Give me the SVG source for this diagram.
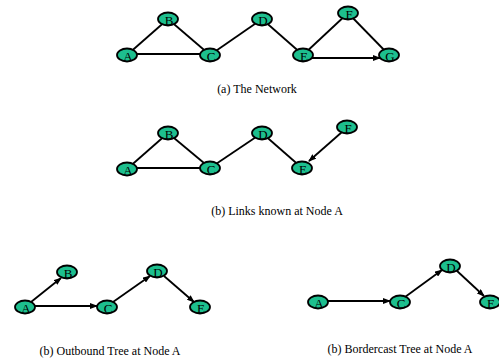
<svg xmlns="http://www.w3.org/2000/svg" width="499" height="360" viewBox="0 0 499 360">
<defs>
<marker id="ah" markerUnits="userSpaceOnUse" markerWidth="8" markerHeight="6" refX="7" refY="3" orient="auto">
<path d="M0,0 L8,3 L0,6 z" fill="#000"/>
</marker>
<style>
.n ellipse{fill:#1dbf8e;stroke:#000;stroke-width:1.8}
.n text{font-family:"Liberation Serif","Times New Roman",serif;font-size:13px;fill:#000;text-anchor:middle}
.e line{stroke:#000;stroke-width:1.8}
.a{marker-end:url(#ah)}
.cap{font-family:"Liberation Serif","Times New Roman",serif;font-size:12px;fill:#000;text-anchor:middle}
</style>
</defs>
<rect width="499" height="360" fill="#fff"/>
<!-- (a) The Network -->
<g id="net-a-edges" class="e">
<line x1="127" y1="55" x2="168" y2="19"/>
<line x1="127" y1="54" x2="210" y2="54"/>
<line x1="168" y1="19" x2="210" y2="55"/>
<line x1="210" y1="55" x2="262" y2="19"/>
<line x1="262" y1="19" x2="303" y2="55"/>
<line x1="303" y1="55" x2="348" y2="13"/>
<line x1="348" y1="13" x2="389" y2="55"/>
<line class="a" x1="312" y1="58" x2="380" y2="58"/>
</g>
<g id="a-A" class="n"><ellipse cx="127" cy="55" rx="10" ry="6.5"/><text x="128" y="60.5">A</text></g>
<g id="a-B" class="n"><ellipse cx="168" cy="19" rx="10" ry="6.5"/><text x="169" y="24.5">B</text></g>
<g id="a-C" class="n"><ellipse cx="210" cy="55" rx="10" ry="6.5"/><text x="211" y="60.5">C</text></g>
<g id="a-D" class="n"><ellipse cx="262" cy="19" rx="10" ry="6.5"/><text x="263" y="24.5">D</text></g>
<g id="a-E" class="n"><ellipse cx="303" cy="55" rx="10" ry="6.5"/><text x="304" y="60.5">E</text></g>
<g id="a-F" class="n"><ellipse cx="348" cy="13" rx="10" ry="6.5"/><text x="349" y="18.5">F</text></g>
<g id="a-G" class="n"><ellipse cx="389" cy="55" rx="10" ry="6.5"/><text x="390" y="60.5">G</text></g>
<text class="cap" x="257" y="93">(a) The Network</text>
<!-- (b) Links known -->
<g id="net-b-edges" class="e">
<line x1="127" y1="169" x2="168" y2="133"/>
<line x1="127" y1="168" x2="210" y2="168"/>
<line x1="168" y1="133" x2="210" y2="168"/>
<line x1="210" y1="168" x2="262" y2="133"/>
<line x1="262" y1="133" x2="302" y2="168"/>
<line class="a" x1="342" y1="132" x2="309" y2="161"/>
</g>
<g id="b-A" class="n"><ellipse cx="127" cy="169" rx="10" ry="6.5"/><text x="128" y="174.5">A</text></g>
<g id="b-B" class="n"><ellipse cx="168" cy="133" rx="10" ry="6.5"/><text x="169" y="138.5">B</text></g>
<g id="b-C" class="n"><ellipse cx="210" cy="168" rx="10" ry="6.5"/><text x="211" y="173.5">C</text></g>
<g id="b-D" class="n"><ellipse cx="262" cy="133" rx="10" ry="6.5"/><text x="263" y="138.5">D</text></g>
<g id="b-E" class="n"><ellipse cx="302" cy="168" rx="10" ry="6.5"/><text x="303" y="173.5">E</text></g>
<g id="b-F" class="n"><ellipse cx="347" cy="127" rx="10" ry="6.5"/><text x="348" y="132.5">F</text></g>
<text class="cap" x="277" y="215">(b) Links known at Node A</text>
<!-- Outbound tree -->
<g id="out-edges" class="e">
<line class="a" x1="31" y1="302" x2="61" y2="278"/>
<line class="a" x1="35" y1="306" x2="97" y2="306"/>
<line class="a" x1="113" y1="302" x2="150" y2="276"/>
<line class="a" x1="164" y1="276" x2="194" y2="302"/>
</g>
<g id="o-A" class="n"><ellipse cx="25" cy="307" rx="10" ry="6.5"/><text x="26" y="312.5">A</text></g>
<g id="o-B" class="n"><ellipse cx="67" cy="272" rx="10" ry="6.5"/><text x="68" y="277.5">B</text></g>
<g id="o-C" class="n"><ellipse cx="107" cy="307" rx="10" ry="6.5"/><text x="108" y="312.5">C</text></g>
<g id="o-D" class="n"><ellipse cx="157" cy="271" rx="10" ry="6.5"/><text x="158" y="276.5">D</text></g>
<g id="o-E" class="n"><ellipse cx="200" cy="307" rx="10" ry="6.5"/><text x="201" y="312.5">E</text></g>
<text class="cap" x="110" y="355">(b) Outbound Tree at Node A</text>
<!-- Bordercast tree -->
<g id="bc-edges" class="e">
<line class="a" x1="327" y1="301" x2="390" y2="301"/>
<line class="a" x1="405" y1="297" x2="442" y2="270"/>
<line class="a" x1="456" y1="270" x2="484" y2="296"/>
</g>
<g id="c-A" class="n"><ellipse cx="318" cy="302" rx="10" ry="6.5"/><text x="319" y="307.5">A</text></g>
<g id="c-C" class="n"><ellipse cx="400" cy="302" rx="10" ry="6.5"/><text x="401" y="307.5">C</text></g>
<g id="c-D" class="n"><ellipse cx="450" cy="266" rx="10" ry="6.5"/><text x="451" y="271.5">D</text></g>
<g id="c-E" class="n"><ellipse cx="490" cy="302" rx="10" ry="6.5"/><text x="491" y="307.5">E</text></g>
<text class="cap" x="400" y="353">(b) Bordercast Tree at Node A</text>
</svg>
